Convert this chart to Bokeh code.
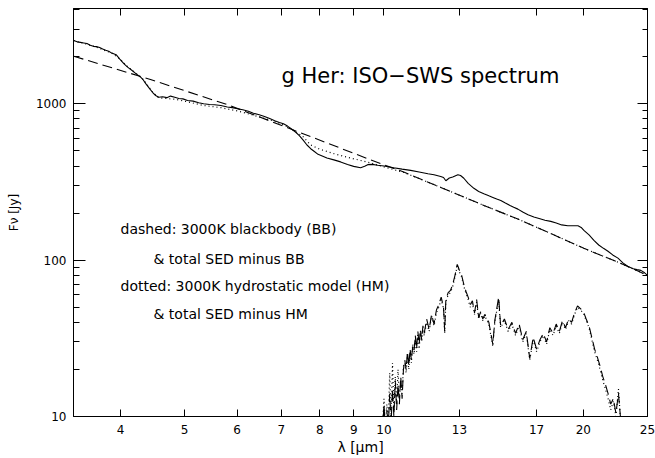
from bokeh.plotting import figure
from bokeh.models import FixedTicker, PrintfTickFormatter, LogAxis, Label, Range1d
from bokeh.embed import file_html
from bokeh.resources import INLINE

FONT = "DejaVu Sans"

# ---- axis ticks ----
x_ticks = [4, 5, 6, 7, 8, 9, 10, 13, 17, 20, 25]
y_ticks = [10, 100, 1000]
y_minor = [20, 30, 40, 50, 60, 70, 80, 90,
           200, 300, 400, 500, 600, 700, 800, 900,
           2000, 3000, 4000]

# ---- observed ISO-SWS spectrum (solid) ----
obs_x = [3.40, 3.44, 3.48, 3.52, 3.56, 3.60, 3.64, 3.68, 3.72, 3.76,
         3.80, 3.84, 3.88, 3.94, 3.99, 4.05,
         4.10, 4.16, 4.22, 4.29, 4.33, 4.37, 4.42, 4.47, 4.52, 4.57,
         4.63, 4.70, 4.76, 4.83, 4.90, 4.97, 5.05, 5.15, 5.25, 5.34,
         5.45, 5.55, 5.67, 5.80, 5.90, 6.01, 6.12, 6.24, 6.35, 6.48,
         6.60, 6.72, 6.84, 6.95, 7.05, 7.15, 7.25, 7.35, 7.45, 7.55,
         7.65, 7.75, 7.85, 7.95, 8.05, 8.20, 8.40, 8.60, 8.81, 9.00,
         9.22, 9.35, 9.45, 9.60, 9.78, 10.0, 10.34, 10.65, 10.97, 11.30,
         11.65, 11.90, 12.18, 12.30, 12.40, 12.55, 12.70, 12.93, 13.05, 13.20,
         13.40, 13.67, 13.90, 14.15, 14.40, 14.60, 14.80, 15.01, 15.25, 15.50,
         15.70, 15.93, 16.20, 16.50, 16.84, 17.20, 17.50, 17.86, 18.20, 18.55,
         18.95, 19.30, 19.63, 19.85, 20.04, 20.40, 20.75, 21.10, 21.45, 21.79,
         22.15, 22.56, 22.95, 23.36, 23.80, 24.10, 24.43, 24.75, 25.0]
obs_y = [2540, 2490, 2470, 2450, 2430, 2370, 2330, 2320, 2290, 2240,
         2200, 2170, 2110, 2060, 1930, 1800,
         1715, 1640, 1560, 1480, 1420, 1340, 1260, 1185, 1130, 1100,
         1110, 1095, 1120, 1100, 1080, 1075, 1050, 1040, 1015, 1000,
         990, 985, 975, 955, 945, 930, 915, 895, 870, 850,
         830, 805, 780, 760, 745, 720, 690, 660, 625, 585,
         545, 516, 495, 475, 465, 450, 438, 425, 409, 398,
         390, 398, 408, 410, 405, 400, 390, 382, 375, 366,
         357, 352, 343, 338, 322, 335, 340, 352, 348, 334,
         310, 288, 275, 266, 258, 252, 246, 241, 232, 224,
         218, 212, 203, 195, 189, 184, 180, 177, 173, 168,
         166, 166, 166, 162, 155, 145, 134, 125, 119, 114,
         108, 103, 96, 91, 88, 87, 86, 83, 80]

# ---- 3000K blackbody (dashed) ----
bb_x = [3.40, 4.44, 5.81, 7.67, 9.55, 10.71, 12.18, 14.15, 15.93, 17.86, 20.04, 22.56, 25.0]
bb_y = [2015, 1430, 985, 627, 438, 366, 292, 224, 183, 148, 119, 97, 80]

# ---- 3000K hydrostatic model (dotted) ----
hm_x = [3.40, 3.64, 3.88, 3.99, 4.10, 4.22, 4.33, 4.47, 4.57, 4.70,
        4.83, 5.05, 5.34, 5.67, 6.01, 6.35, 6.72, 7.05, 7.35, 7.55,
        7.75, 8.00, 8.40, 8.81, 9.22, 9.55, 10.0, 10.71, 12.18, 14.15,
        15.93, 17.86, 20.04, 22.56, 25.0]
hm_y = [2540, 2340, 2110, 1940, 1730, 1570, 1430, 1190, 1090, 1080,
        1070, 1030, 975, 945, 900, 845, 790, 735, 665, 615,
        545, 512, 480, 455, 434, 418, 395, 364, 292, 224,
        183, 148, 119, 97, 80]

# ---- total SED minus BB (dashed) / minus HM (dotted) ----
em_x = [9.95, 10.0, 10.05, 10.1, 10.15, 10.2, 10.25, 10.3, 10.35, 10.4,
        10.45, 10.5, 10.55, 10.6, 10.65, 10.7, 10.75, 10.8, 10.85, 10.9,
        10.95, 11.0, 11.05, 11.1, 11.15, 11.2, 11.25, 11.3, 11.35, 11.4,
        11.45, 11.5, 11.6, 11.7, 11.8, 11.9, 12.0, 12.1, 12.2, 12.3,
        12.35, 12.4, 12.5, 12.6, 12.7, 12.8, 12.9, 12.95, 13.0, 13.1,
        13.2, 13.3, 13.4, 13.5, 13.6, 13.7, 13.8, 13.9, 14.0, 14.1,
        14.2, 14.4, 14.6, 14.7, 14.9, 15.0, 15.2, 15.4, 15.6, 15.8,
        16.0, 16.2, 16.4, 16.6, 16.8, 17.0, 17.2, 17.4, 17.6, 17.8,
        18.0, 18.2, 18.4, 18.6, 18.8, 19.0, 19.2, 19.4, 19.6, 19.8,
        20.0, 20.2, 20.4, 20.6, 20.8, 21.0, 21.2, 21.4, 21.6, 21.8,
        22.0, 22.2, 22.4, 22.6, 22.8]
em_bb = [8, 12, 8, 11, 8.5, 14, 9, 15, 10, 17,
         11, 16, 12, 18, 13, 20, 23, 20, 26, 21,
         27, 23, 28, 26, 33, 27, 35, 29, 36, 31,
         38, 34, 42, 36, 45, 39, 48, 52, 58, 50,
         35, 56, 62, 64, 70, 80, 94, 90, 86, 80,
         70, 63, 58, 52, 55, 46, 56, 43, 47, 42,
         45, 40, 29, 41, 58, 38, 42, 36, 40, 34,
         39, 31, 35, 23.5, 32, 27, 31, 34, 30, 37,
         34, 39, 35, 41, 37, 42, 40, 46, 51, 49,
         47, 42, 38, 32, 27, 24, 21, 18, 16, 14,
         12, 13, 10.5, 14, 9]
em_hm = [9, 13, 8.5, 12, 9, 19, 10, 22, 11, 18,
         12, 20, 13, 17, 14, 21, 22, 19, 25, 20,
         26, 22, 29, 25, 31, 26, 34, 27, 35, 30,
         36, 33, 40, 35, 44, 38, 46, 50, 56, 49,
         34, 54, 60, 62, 68, 78, 92, 88, 84, 78,
         68, 61, 56, 50, 53, 45, 54, 42, 46, 41,
         44, 39, 28, 40, 56, 37, 41, 35, 39, 33,
         38, 30, 34, 23, 31, 26, 30, 33, 29, 36,
         33, 38, 34, 40, 36, 41, 39, 45, 50, 48,
         46, 41, 37, 31, 26, 23, 20, 17, 15, 13,
         11, 12.5, 10, 15, 8.5]

title_text = "g Her: ISO\u2212SWS spectrum"
legend_lines = ["dashed: 3000K blackbody (BB)",
                "& total SED minus BB",
                "dotted: 3000K hydrostatic model (HM)",
                "& total SED minus HM"]

p = figure(x_axis_type="log", y_axis_type="log",
           x_range=Range1d(3.397, 25), y_range=Range1d(10, 4069),
           frame_width=574, frame_height=408,
           output_backend="svg", toolbar_location=None,
           min_border_left=73, min_border_right=8,
           min_border_top=8, min_border_bottom=34)
p.grid.visible = False
p.outline_line_color = "black"
p.background_fill_color = "white"
p.border_fill_color = "white"

# bottom axis
xa = p.xaxis[0]
xa.ticker = FixedTicker(ticks=x_ticks, minor_ticks=[])
xa.formatter = PrintfTickFormatter(format="%d")
xa.major_tick_in = 7
xa.major_tick_out = 0
xa.minor_tick_in = 0
xa.minor_tick_out = 0
xa.axis_line_color = "black"
xa.major_tick_line_color = "black"
xa.major_label_text_font = FONT
xa.major_label_text_font_size = "12px"
xa.major_label_text_color = "black"
xa.major_label_standoff = 8
xa.axis_label = "\u03bb [\u03bcm]"
xa.axis_label_text_font = FONT
xa.axis_label_text_font_size = "14px"
xa.axis_label_text_font_style = "normal"
xa.axis_label_text_color = "black"
xa.axis_label_standoff = 2

# left axis
ya = p.yaxis[0]
ya.ticker = FixedTicker(ticks=y_ticks, minor_ticks=y_minor)
ya.formatter = PrintfTickFormatter(format="%d")
ya.major_tick_in = 12
ya.major_tick_out = 0
ya.minor_tick_in = 6
ya.minor_tick_out = 0
ya.axis_line_color = "black"
ya.major_tick_line_color = "black"
ya.minor_tick_line_color = "black"
ya.major_label_text_font = FONT
ya.major_label_text_font_size = "12px"
ya.major_label_text_color = "black"
ya.major_label_standoff = 7
ya.axis_label = "F\u03bd [Jy]"
ya.axis_label_text_font = FONT
ya.axis_label_text_font_size = "12px"
ya.axis_label_text_font_style = "normal"
ya.axis_label_text_color = "black"
ya.axis_label_standoff = 12

# top axis (ticks only, labels not drawn)
top = LogAxis(ticker=FixedTicker(ticks=x_ticks, minor_ticks=[]),
              formatter=PrintfTickFormatter(format="%d"),
              major_tick_in=7, major_tick_out=0, minor_tick_in=0, minor_tick_out=0,
              major_label_text_font_size="1px", major_label_text_color=None,
              major_label_standoff=0,
              axis_line_color="black", major_tick_line_color="black")
p.add_layout(top, "above")

# right axis (ticks only, labels not drawn)
right = LogAxis(ticker=FixedTicker(ticks=y_ticks, minor_ticks=y_minor),
                formatter=PrintfTickFormatter(format="%d"),
                major_tick_in=10, major_tick_out=0, minor_tick_in=5, minor_tick_out=0,
                major_label_text_font_size="1px", major_label_text_color=None,
                major_label_standoff=0,
                axis_line_color="black", major_tick_line_color="black",
                minor_tick_line_color="black")
p.add_layout(right, "right")

# curves
p.line(obs_x, obs_y, line_color="black", line_width=1.1)
p.line(hm_x, hm_y, line_color="black", line_width=1.2, line_dash="1 3")
p.line(bb_x, bb_y, line_color="black", line_width=1.1, line_dash="10 5")
p.line(em_x, em_bb, line_color="black", line_width=1.1, line_dash="10 5")
p.line(em_x, em_hm, line_color="black", line_width=1.2, line_dash="1 3")

def add_label(text, x, y, size, align="left", baseline="middle"):
    p.add_layout(Label(x=x, y=y, x_units="screen", y_units="screen", text=text,
                       text_font=FONT, text_font_size=size, text_color="black",
                       text_align=align, text_baseline=baseline))

add_label(title_text, 208, 341, "21px", baseline="alphabetic")
add_label(legend_lines[0], 47, 188, "14px")
add_label(legend_lines[1], 80, 158, "14px")
add_label(legend_lines[2], 47, 131, "14px")
add_label(legend_lines[3], 80, 103, "14px")

open("out.html", "w").write(file_html(p, INLINE))
